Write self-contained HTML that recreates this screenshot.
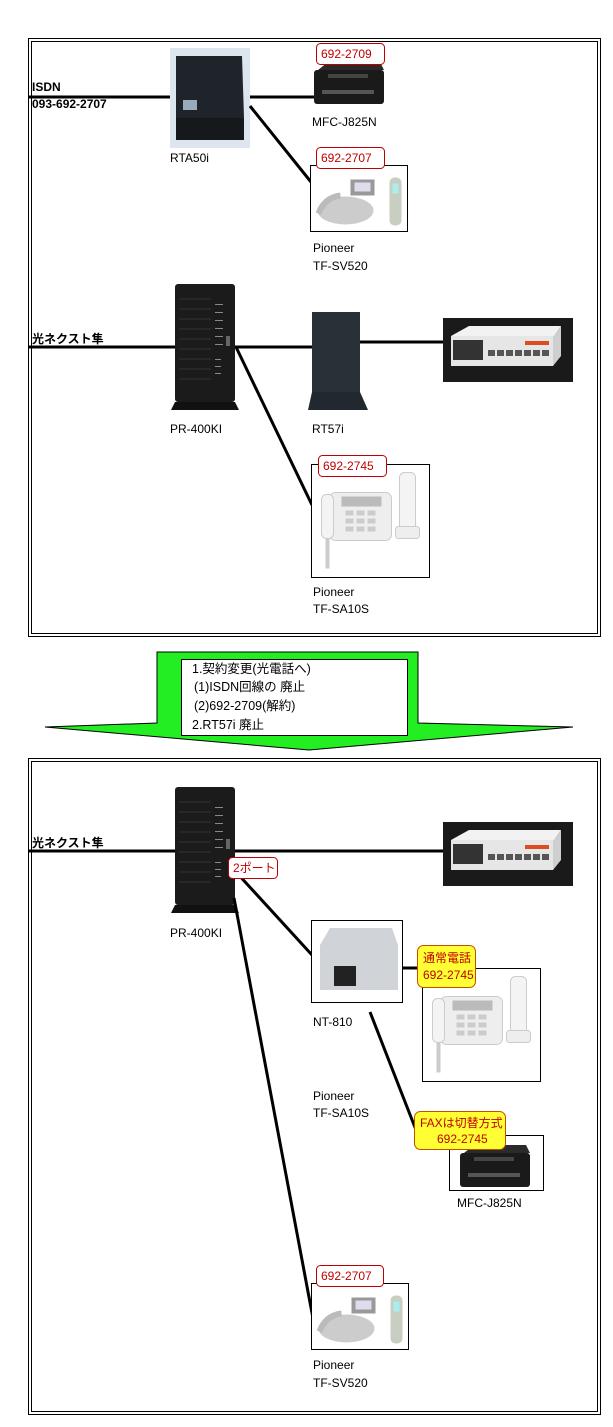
<!DOCTYPE html>
<html><head><meta charset="utf-8"><style>
html,body{margin:0;padding:0;background:#fff;}
svg{display:block;}
text{font-family:"Liberation Sans","Noto Sans CJK JP",sans-serif;font-size:12px;fill:#000;}
.b{font-weight:bold;}
.r{fill:#c00000;}
</style></head><body>
<svg width="613" height="1427" viewBox="0 0 613 1427" xmlns="http://www.w3.org/2000/svg">
<defs>
<g id="pr">
<rect x="0" y="0" width="60" height="118" rx="3" fill="#1b1b1b"/>
<polygon points="0,118 60,118 64,126 -4,126" fill="#111"/>
<g stroke="#333" stroke-width="1">
<line x1="4" y1="15" x2="36" y2="15"/><line x1="4" y1="25" x2="36" y2="25"/><line x1="4" y1="35" x2="36" y2="35"/><line x1="4" y1="45" x2="36" y2="45"/><line x1="4" y1="55" x2="36" y2="55"/><line x1="4" y1="65" x2="36" y2="65"/><line x1="4" y1="75" x2="36" y2="75"/><line x1="4" y1="85" x2="36" y2="85"/><line x1="4" y1="95" x2="36" y2="95"/>
</g>
<g fill="#888"><rect x="40" y="20" width="8" height="1"/><rect x="40" y="28" width="8" height="1"/><rect x="40" y="36" width="8" height="1"/><rect x="40" y="44" width="8" height="1"/><rect x="40" y="52" width="8" height="1"/><rect x="40" y="60" width="8" height="1"/><rect x="40" y="75" width="6" height="1"/><rect x="40" y="82" width="6" height="1"/><rect x="40" y="89" width="6" height="1"/></g>
<rect x="51" y="52" width="4" height="10" fill="#666"/>
</g>
<g id="sw">
<rect x="0" y="0" width="130" height="64" fill="#1a1a1a"/>
<polygon points="8,18 26,8 118,8 110,20" fill="#f2f2f2"/>
<rect x="8" y="18" width="102" height="30" fill="#e6e6e6"/>
<polygon points="110,20 118,8 118,38 110,48" fill="#cfcfcf"/>
<rect x="10" y="22" width="30" height="20" fill="#333"/>
<g fill="#555"><rect x="45" y="32" width="7" height="6"/><rect x="54" y="32" width="7" height="6"/><rect x="63" y="32" width="7" height="6"/><rect x="72" y="32" width="7" height="6"/><rect x="81" y="32" width="7" height="6"/><rect x="90" y="32" width="7" height="6"/><rect x="99" y="32" width="7" height="6"/></g>
<rect x="82" y="23" width="24" height="4" fill="#e04a20"/>
</g>
<g id="ph1">
<rect x="0" y="0" width="97" height="66" fill="#fff" stroke="#000"/>
<ellipse cx="35" cy="45" rx="28" ry="14" fill="#ccc"/>
<rect x="40" y="14" width="24" height="16" fill="#999"/>
<rect x="44" y="17" width="16" height="9" fill="#dde"/>
<rect x="79" y="12" width="12" height="48" rx="5" fill="#c8cfc2"/>
<rect x="82" y="18" width="6" height="10" fill="#aee"/>
<path d="M8,48 Q14,32 30,30" stroke="#bbb" stroke-width="6" fill="none"/>
</g>
<g id="ph2">
<rect x="0" y="0" width="118" height="113" fill="#fff" stroke="#000"/>
<rect x="18" y="28" width="62" height="48" rx="6" fill="#eee" stroke="#ccc"/>
<rect x="30" y="32" width="40" height="10" fill="#bbb"/>
<g fill="#ccc"><rect x="34" y="46" width="8" height="5"/><rect x="45" y="46" width="8" height="5"/><rect x="56" y="46" width="8" height="5"/><rect x="34" y="54" width="8" height="5"/><rect x="45" y="54" width="8" height="5"/><rect x="56" y="54" width="8" height="5"/><rect x="34" y="62" width="8" height="5"/><rect x="45" y="62" width="8" height="5"/><rect x="56" y="62" width="8" height="5"/></g>
<rect x="10" y="30" width="12" height="44" rx="5" fill="#f4f4f4" stroke="#ccc"/>
<path d="M16,74 L16,104" stroke="#ccc" stroke-width="4"/>
<rect x="88" y="8" width="16" height="62" rx="5" fill="#f4f4f4" stroke="#ccc"/>
<rect x="84" y="62" width="24" height="12" rx="3" fill="#eee" stroke="#ccc"/>
</g>
<g id="mfc">
<rect x="6" y="10" width="70" height="34" rx="3" fill="#1a1a1a"/>
<polygon points="10,10 20,2 72,2 76,10" fill="#2a2a2a"/>
<rect x="14" y="30" width="52" height="4" fill="#555"/>
<rect x="20" y="14" width="40" height="4" fill="#444"/>
</g>
</defs>

<!-- Top frame -->
<rect x="28.5" y="38.5" width="572" height="598" fill="none" stroke="#000"/>
<rect x="31.5" y="41.5" width="566" height="592" fill="none" stroke="#000"/>

<line x1="28" y1="97" x2="172" y2="97" stroke="#000" stroke-width="3"/>
<text x="32" y="91" class="b">ISDN</text>
<text x="32" y="108" class="b">093-692-2707</text>
<!-- RTA50i -->
<rect x="170" y="48" width="80" height="100" fill="#dde6ee"/>
<polygon points="176,56 242,56 244,118 176,118" fill="#1e2429"/>
<rect x="176" y="118" width="68" height="22" fill="#15191c"/>
<rect x="183" y="100" width="14" height="10" fill="#9ab"/>
<text x="170" y="162">RTA50i</text>
<line x1="250" y1="97" x2="315" y2="97" stroke="#000" stroke-width="3"/>
<line x1="250" y1="106" x2="311" y2="182" stroke="#000" stroke-width="3"/>
<use href="#mfc" x="308" y="60"/>
<rect x="316.5" y="43.5" width="68" height="21" rx="4" fill="#fff" stroke="#c00000"/>
<text x="321" y="58" class="r">692-2709</text>
<text x="312" y="126">MFC-J825N</text>
<use href="#ph1" x="310.5" y="165.5"/>
<rect x="316.5" y="147.5" width="68" height="21" rx="4" fill="#fff" stroke="#c00000"/>
<text x="321" y="162" class="r">692-2707</text>
<text x="313" y="252">Pioneer</text>
<text x="313" y="270">TF-SV520</text>

<line x1="28" y1="347" x2="178" y2="347" stroke="#000" stroke-width="3"/>
<text x="32" y="343" class="b">光ネクスト隼</text>
<use href="#pr" x="175" y="284"/>
<text x="170" y="433">PR-400KI</text>
<line x1="235" y1="347" x2="312" y2="347" stroke="#000" stroke-width="3"/>
<line x1="236" y1="347" x2="312" y2="505" stroke="#000" stroke-width="3"/>
<!-- RT57i -->
<rect x="312" y="312" width="48" height="80" fill="#2a3038"/>
<polygon points="312,392 360,392 368,410 308,410" fill="#222830"/>
<text x="312" y="433">RT57i</text>
<line x1="360" y1="342" x2="444" y2="342" stroke="#000" stroke-width="3"/>
<use href="#sw" x="443" y="318"/>
<use href="#ph2" x="311.5" y="464.5"/>
<rect x="318.5" y="455.5" width="68" height="21" rx="4" fill="#fff" stroke="#c00000"/>
<text x="323" y="470" class="r">692-2745</text>
<text x="313" y="596">Pioneer</text>
<text x="313" y="613">TF-SA10S</text>

<!-- Arrow -->
<polygon points="157,652 418,652 418,723 573,727 309,750 45,727 157,723" fill="#22ee22" stroke="#000" stroke-width="1"/>
<rect x="181.5" y="659.5" width="226" height="76" fill="#fff" stroke="#000"/>
<text x="192" y="673" style="font-size:12.5px">1.契約変更(光電話へ)</text>
<text x="194" y="691" style="font-size:12.5px">(1)ISDN回線の 廃止</text>
<text x="194" y="710" style="font-size:12.5px">(2)692-2709(解約)</text>
<text x="192" y="729" style="font-size:12.5px">2.RT57i 廃止</text>

<!-- Bottom frame -->
<rect x="28.5" y="758.5" width="572" height="656" fill="none" stroke="#000"/>
<rect x="31.5" y="761.5" width="566" height="650" fill="none" stroke="#000"/>

<line x1="28" y1="851" x2="178" y2="851" stroke="#000" stroke-width="3"/>
<text x="32" y="847" class="b">光ネクスト隼</text>
<use href="#pr" x="175" y="787"/>
<text x="170" y="937">PR-400KI</text>
<line x1="235" y1="851" x2="444" y2="851" stroke="#000" stroke-width="3"/>
<use href="#sw" x="443" y="822"/>
<line x1="236" y1="872" x2="312" y2="955" stroke="#000" stroke-width="3"/>
<line x1="234" y1="898" x2="318" y2="1345" stroke="#000" stroke-width="3"/>
<rect x="228.5" y="857.5" width="49" height="21" rx="4" fill="#fff" stroke="#c00000"/>
<text x="233" y="872" class="r">2ポート</text>
<!-- NT-810 -->
<rect x="311.5" y="920.5" width="91" height="82" fill="#fff" stroke="#000"/>
<polygon points="320,945 330,928 392,928 398,945 398,990 320,990" fill="#d0d3d8"/>
<rect x="334" y="966" width="22" height="20" fill="#222"/>
<text x="313" y="1026">NT-810</text>
<line x1="402" y1="968" x2="423" y2="968" stroke="#000" stroke-width="3"/>
<line x1="370" y1="1012" x2="416" y2="1130" stroke="#000" stroke-width="3"/>
<use href="#ph2" x="422.5" y="968.5"/>
<rect x="417.5" y="945.5" width="58" height="42" rx="6" fill="#ffff33" stroke="#c05000"/>
<text x="423" y="962" class="r">通常電話</text>
<text x="423" y="979" class="r">692-2745</text>
<text x="313" y="1100">Pioneer</text>
<text x="313" y="1117">TF-SA10S</text>
<rect x="449.5" y="1135.5" width="94" height="55" fill="#fff" stroke="#000"/>
<use href="#mfc" x="454" y="1143"/>
<rect x="414.5" y="1111.5" width="91" height="38" rx="6" fill="#ffff33" stroke="#c05000"/>
<text x="420" y="1127" class="r">FAXは切替方式</text>
<text x="437" y="1143" class="r">692-2745</text>
<text x="457" y="1207">MFC-J825N</text>
<use href="#ph1" x="311.5" y="1283.5"/>
<rect x="316.5" y="1265.5" width="67" height="21" rx="4" fill="#fff" stroke="#c00000"/>
<text x="321" y="1280" class="r">692-2707</text>
<text x="313" y="1369">Pioneer</text>
<text x="313" y="1387">TF-SV520</text>
</svg>
</body></html>
